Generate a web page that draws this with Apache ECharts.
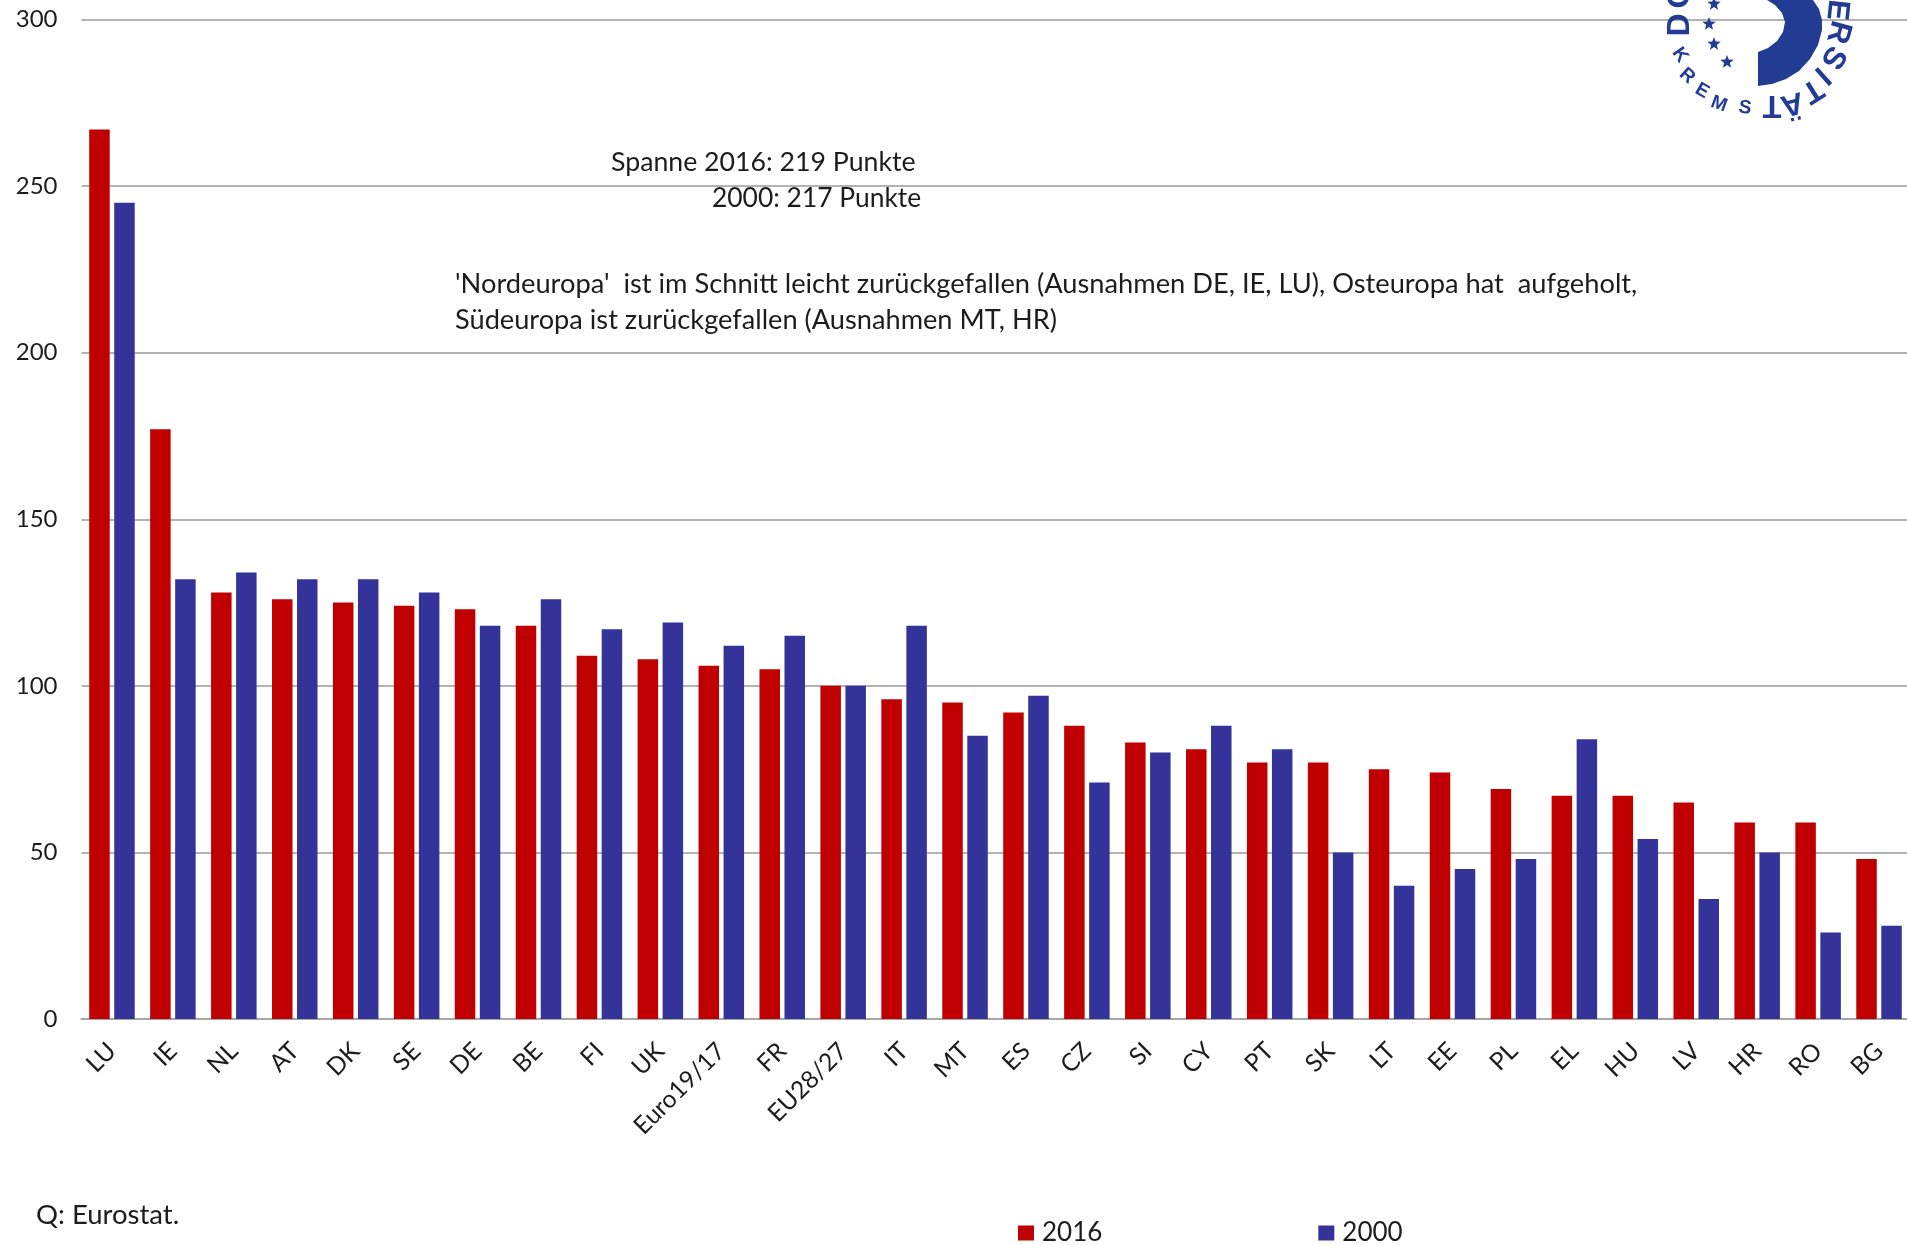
<!DOCTYPE html>
<html>
<head>
<meta charset="utf-8">
<style>html,body{margin:0;padding:0;background:#fff;overflow:hidden;width:1907px;height:1245px}#c{width:1930px;height:1245px}</style>
<script src="https://cdn.jsdelivr.net/npm/echarts@6/dist/echarts.min.js"></script>
</head>
<body>
<div id="c"></div>
<script>
// BIP je Einwohner in KKS, EU28/27 = 100
const categories = ['LU','IE','NL','AT','DK','SE','DE','BE','FI','UK','Euro19/17','FR','EU28/27','IT','MT','ES','CZ','SI','CY','PT','SK','LT','EE','PL','EL','HU','LV','HR','RO','BG'];
const values2016 = [267,177,128,126,125,124,123,118,109,108,106,105,100,96,95,92,88,83,81,77,77,75,74,69,67,67,65,59,59,48];
const values2000 = [245,132,134,132,132,128,118,126,117,119,112,115,100,118,85,97,71,80,88,81,50,40,45,48,84,54,36,50,26,28];
const yTicks = [0,50,100,150,200,250,300];

const FONT = 'Lato, "Open Sans", sans-serif';
const INK = '#1c1c1c';
const RED = '#C00000';
const BLUE = '#333399';
const LOGO = '#213c92';

function note(text, x, y, size) {
  return {type:'text', x, y, z:5, style:{text, x:0, y:0, fill:INK, font:`${size}px ${FONT}`, textVerticalAlign:'middle'}};
}

// Siegel der Donau-Universität Krems, am oberen Rand angeschnitten
const sealLetters = [
  ['D',1680,25,-90,32],['O',1680,-4,-90,32],
  ['E',1837,10,96,31],['R',1838,32,105,31],['S',1833,57,122,31],['I',1822,75,138,31],
  ['T',1812,90,148,31],['Ä',1792,103,166,31],['T',1772,105,180,31],
  ['K',1680,55,55,19],['R',1687,76,42,19],['E',1702,91,30,19],['M',1719,104,20,19],['S',1745,108,8,19]
];
const sealStars = [[1714,4],[1709,24],[1714,44],[1727,62]];
const sealCrescent = [[1767,0],[1775,5],[1782,13],[1785,22],[1783,32],[1777,41],[1768,48],[1758,52],[1758,86],
  [1772,84],[1786,79],[1799,71],[1810,59],[1818,45],[1822,30],[1822,20],[1819,9],[1813,0]];

function star(cx, cy, r) {
  const pts = [];
  for (let i = 0; i < 10; i++) {
    const a = -Math.PI/2 + i*Math.PI/5, q = i%2 ? r*0.42 : r;
    pts.push([cx+q*Math.cos(a), cy+q*Math.sin(a)]);
  }
  return {type:'polygon', z:6, shape:{points:pts}, style:{fill:LOGO}};
}

const seal = [
  {type:'polygon', z:6, shape:{points:sealCrescent, smooth:0}, style:{fill:LOGO}},
  ...sealStars.map(p => star(p[0], p[1], 7)),
  ...sealLetters.map(l => ({type:'text', x:l[1], y:l[2], z:6, rotation:-l[3]*Math.PI/180,
    style:{text:l[0], x:0, y:0, fill:LOGO, align:'center', verticalAlign:'middle', font:`bold ${l[4]}px "Liberation Sans", sans-serif`}}))
];

const chart = echarts.init(document.getElementById('c'), null, {renderer:'canvas'});
chart.setOption({
  animation:false,
  backgroundColor:'#fff',
  grid:{left:81.5, top:19.5, width:1828, height:999.5, containLabel:false},
  legend:{
    left:1013, top:1215, itemWidth:16, itemHeight:15, itemGap:216,
    icon:'rect', textStyle:{fontFamily:FONT, fontSize:26, color:INK, padding:[0,0,0,3]},
    data:['2016','2000']
  },
  xAxis:{
    type:'category', data:categories,
    axisLine:{show:true, lineStyle:{color:'#a6a6a6', width:2}},
    axisTick:{show:false},
    axisLabel:{rotate:45, interval:0, margin:28, padding:[7,0,0,0], fontFamily:FONT, fontSize:24.5, color:INK}
  },
  yAxis:{
    type:'value', min:0, max:300, interval:50,
    axisLine:{show:false}, axisTick:{show:false},
    splitLine:{lineStyle:{color:'#9a9a9a', width:1.5}},
    axisLabel:{margin:24, fontFamily:FONT, fontSize:24, color:INK,
      formatter:v => yTicks.includes(v) ? String(v) : ''}
  },
  series:[
    {name:'2016', type:'bar', data:values2016, barWidth:20.5, barGap:'22%', itemStyle:{color:RED}},
    {name:'2000', type:'bar', data:values2000, barWidth:20.5, barGap:'22%', itemStyle:{color:BLUE}}
  ],
  graphic:[
    note('Spanne 2016: 219 Punkte', 611, 162, 26.7),
    note('2000: 217 Punkte', 712, 198, 26.4),
    note("'Nordeuropa'  ist im Schnitt leicht zurückgefallen (Ausnahmen DE, IE, LU), Osteuropa hat  aufgeholt,", 455, 284, 27.25),
    note('Südeuropa ist zurückgefallen (Ausnahmen MT, HR)', 455, 320, 27.2),
    note('Q: Eurostat.', 36, 1215, 27.5),
    ...seal
  ]
});
</script>
</body>
</html>
